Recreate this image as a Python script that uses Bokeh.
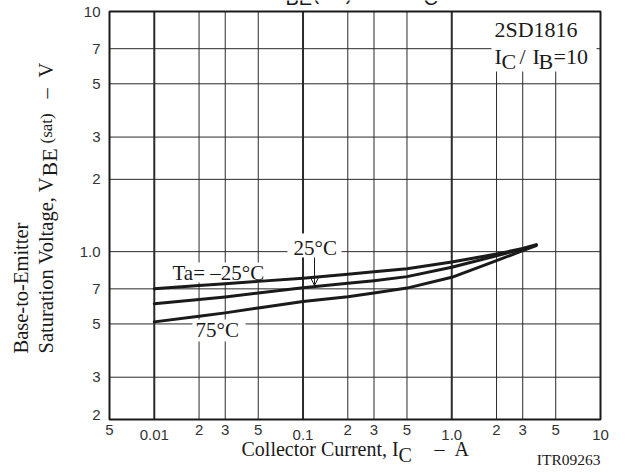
import math
from bokeh.plotting import figure
from bokeh.models import Label, Arrow, OpenHead, Range1d
from bokeh.embed import file_html
from bokeh.resources import INLINE

# ---------------- data ----------------
ic = [0.01, 0.02, 0.03, 0.05, 0.1, 0.2, 0.3, 0.5, 1.0, 2.0, 3.0, 3.7]
vbe_m25 = [0.70, 0.722, 0.735, 0.752, 0.775, 0.806, 0.825, 0.848, 0.905, 0.978, 1.03, 1.07]
vbe_25 = [0.607, 0.632, 0.648, 0.672, 0.708, 0.738, 0.757, 0.787, 0.861, 0.962, 1.026, 1.065]
vbe_75 = [0.51, 0.538, 0.556, 0.583, 0.62, 0.649, 0.672, 0.705, 0.782, 0.917, 1.01, 1.06]

x_ticks = [0.005, 0.02, 0.03, 0.05, 0.2, 0.3, 0.5, 2.0, 3.0, 5.0]
x_tick_labels = ["5", "2", "3", "5", "2", "3", "5", "2", "3", "5"]
x_decades = [0.01, 0.1, 1.0, 10.0]
x_decade_labels = ["0.01", "0.1", "1.0", "10"]
y_ticks = [0.2, 0.3, 0.5, 0.7, 1.0, 2.0, 3.0, 5.0, 7.0, 10.0]
y_tick_labels = ["2", "3", "5", "7", "1.0", "2", "3", "5", "7", "10"]

# ---------------- geometry helpers (page px -> data) ----------------
OX, OY = 0, 0              # page position of the canvas
W, H = 617, 470
FL, FR, FT, FB = 109, 600, 11, 419
XMIN, XMAX, YMIN, YMAX = 0.005, 10.0, 0.2, 10.0


def X(px):
    return XMIN * 10 ** ((px - FL) * math.log10(XMAX / XMIN) / (FR - FL))


def Y(py):
    return YMAX * 10 ** (-(py - FT) * math.log10(YMAX / YMIN) / (FB - FT))


p = figure(width=W, height=H, x_axis_type="log", y_axis_type="log",
           x_range=Range1d(X(OX), X(OX + W)), y_range=Range1d(Y(OY + H), Y(OY)),
           output_backend="svg", toolbar_location=None,
           min_border=0, min_border_left=0, min_border_right=0,
           min_border_top=0, min_border_bottom=0)
p.axis.visible = False
p.grid.visible = False
p.outline_line_color = None
p.background_fill_color = "white"
p.border_fill_color = "white"

INK = "#1a1a1a"
GRID = "#2a2a2a"

# grid lines (drawn from the tick arrays)
vx = [t for t in x_ticks if XMIN < t < XMAX]
p.segment(x0=vx, x1=vx, y0=[YMIN] * len(vx), y1=[YMAX] * len(vx),
          line_color=GRID, line_width=1)
dx = [t for t in x_decades if XMIN < t < XMAX]
p.segment(x0=dx, x1=dx, y0=[YMIN] * len(dx), y1=[YMAX] * len(dx),
          line_color=GRID, line_width=2)
hy = [t for t in y_ticks if YMIN < t < YMAX]
p.segment(x0=[XMIN] * len(hy), x1=[XMAX] * len(hy), y0=hy, y1=hy,
          line_color=GRID, line_width=1)

# white boxes behind texts (over the grid, under the curves)
boxes = [(491, 596, 11, 71),    # legend
         (287, 341, 233, 257),  # 25°C
         (170, 267, 262, 282),  # Ta= –25°C
         (192, 245, 319, 341)]  # 75°C
p.quad(left=[X(b[0]) for b in boxes], right=[X(b[1]) for b in boxes],
       top=[Y(b[2]) for b in boxes], bottom=[Y(b[3]) for b in boxes],
       fill_color="white", line_color=None)

# curves
for v in (vbe_m25, vbe_25, vbe_75):
    p.line(ic, v, line_width=3, line_color=INK, line_cap="round", line_join="round")

# plot frame
p.quad(left=[XMIN], right=[XMAX], bottom=[YMIN], top=[YMAX],
       fill_color=None, line_color=INK, line_width=2)

SERIF = "Liberation Serif"
SANS = "Liberation Sans"


def lbl(text, x, y, size, font=SERIF, align="left", baseline="middle", angle=0.0,
        color=INK, y_offset=0):
    p.add_layout(Label(x=x, y=y, text=text, text_font=font,
                       text_font_size=f"{size}px", text_align=align,
                       text_baseline=baseline, angle=angle, text_color=color,
                       y_offset=y_offset))

# tick labels
TICK = "#333333"
for t, s in zip(x_ticks, x_tick_labels):
    lbl(s, t, Y(424), 15, font=SANS, align="center", baseline="top", color=TICK)
for t, s in zip(x_decades, x_decade_labels):
    lbl(s, t, Y(429), 15, font=SANS, align="center", baseline="top", color=TICK)
for t, s in zip(y_ticks, y_tick_labels):
    lbl(s, X(100), t, 15, font=SANS, align="right", baseline="middle", color=TICK,
        y_offset=5 if t == YMIN else 0)

# curve annotations (y = vertical centre of the capitals)
lbl("Ta= –25°C", X(172), Y(272), 21)
lbl("25°C", X(293), Y(247.5), 21)
lbl("75°C", X(195), Y(329.5), 21)
p.add_layout(Arrow(end=OpenHead(size=9, line_width=1, line_color=INK),
                   x_start=X(314), y_start=Y(257), x_end=X(314), y_end=Y(285),
                   line_width=1, line_color=INK))

# legend text
lbl("2SD1816", X(494), Y(28.5), 22)
lbl("I", X(494), Y(55.5), 22)
lbl("C", X(501), Y(60.5), 22)
lbl("/", X(519), Y(55.5), 22)
lbl("I", X(532), Y(55.5), 22)
lbl("B", X(538), Y(60.5), 22)
lbl("=10", X(553), Y(55.5), 22)

# x axis title
lbl("Collector Current, I", X(241), Y(448), 20)
lbl("C", X(398), Y(454), 20)
lbl("–", X(434), Y(448), 20)
lbl("A", X(454), Y(448), 20)
lbl("ITR09263", X(600), Y(458.5), 15.5, align="right")

# y axis title (rotated, reads bottom to top)
R = math.pi / 2
lbl("Base-to-Emitter", X(20), Y(353), 20.5, angle=R)
lbl("Saturation Voltage, V", X(45), Y(353), 20.5, angle=R)
lbl("BE", X(49), Y(176), 22, angle=R)
lbl("(sat)", X(46), Y(143), 17, angle=R)
lbl("–", X(45), Y(98), 20.5, angle=R)
lbl("V", X(45), Y(77), 20.5, angle=R)

# chart title, mostly cut off above the page top
lbl("V", X(271), Y(-8), 20, font=SANS)
lbl("BE", X(285), Y(-3), 20, font=SANS)
lbl("(sat)", X(312), Y(-8), 20, font=SANS)
lbl("–  I", X(370), Y(-8), 20, font=SANS)
lbl("C", X(423), Y(-3), 20, font=SANS)

open("out.html", "w").write(file_html(p, INLINE))
